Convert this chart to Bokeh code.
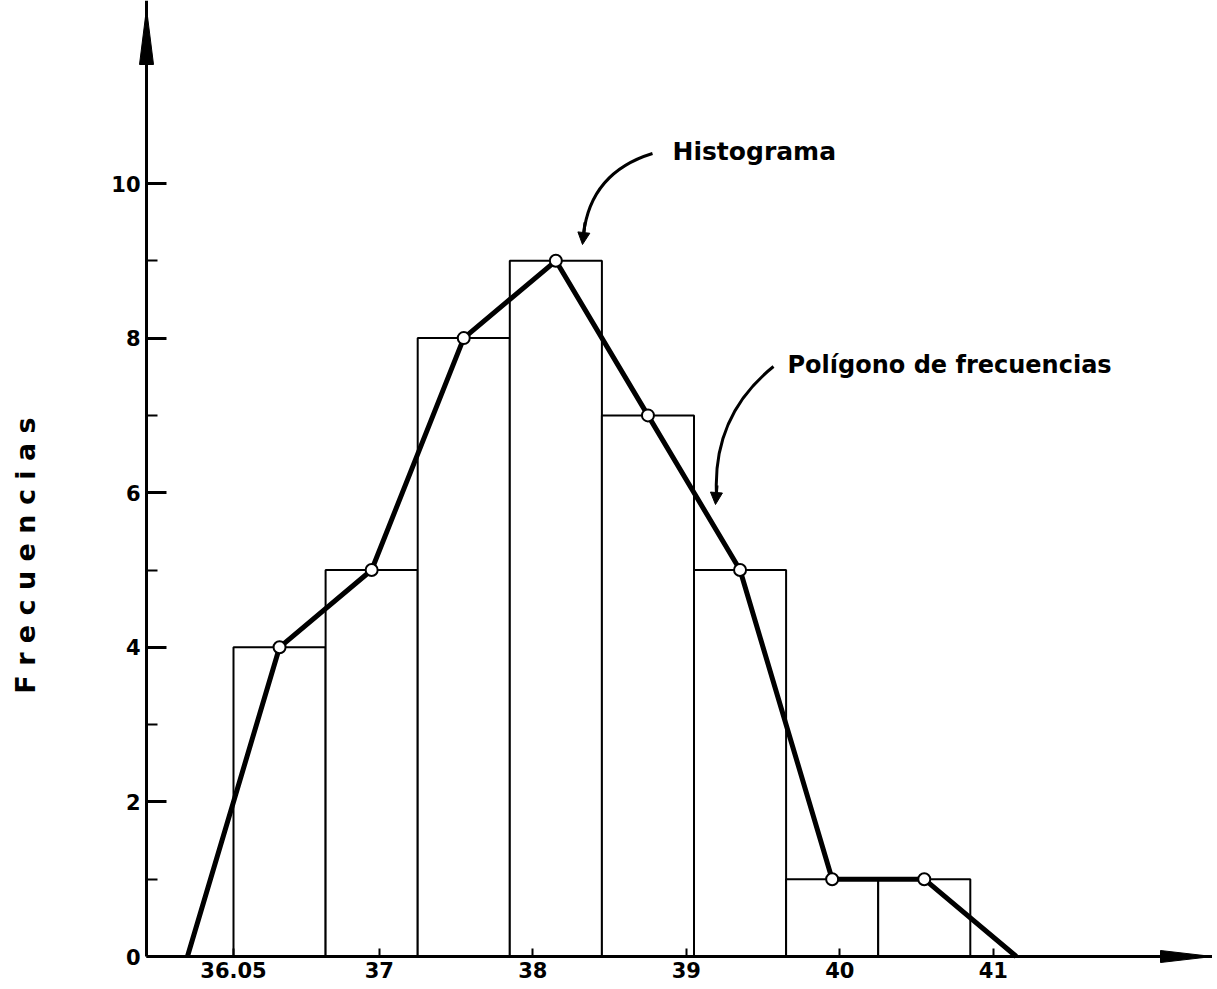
from bokeh.plotting import figure
from bokeh.models import FixedTicker, Label, Arrow, NormalHead, Range1d
from bokeh.embed import file_html
from bokeh.resources import INLINE
import math

# ---- data ----
CLASS_LOWER = [36.05, 36.65, 37.25, 37.85, 38.45, 39.05, 39.65, 40.25]
CLASS_UPPER = [36.65, 37.25, 37.85, 38.45, 39.05, 39.65, 40.25, 40.85]
FREQUENCIES = [4, 5, 8, 9, 7, 5, 1, 1]
POLY_X = [35.75, 36.35, 36.95, 37.55, 38.15, 38.75, 39.35, 39.95, 40.55, 41.15]
POLY_Y = [0, 4, 5, 8, 9, 7, 5, 1, 1, 0]
X_TICKS = [36.05, 37, 38, 39, 40, 41]
X_TICK_LABELS = ["36.05", "37", "38", "39", "40", "41"]
Y_TICKS = [0, 2, 4, 6, 8, 10]
Y_MINOR = [1, 3, 5, 7, 9]
Y_LABEL = "F r e c u e n c i a s"
HIST_LABEL = "Histograma"
POLY_LABEL = "Polígono de frecuencias"

# ---- layout (canvas pixels; the frame fills the whole canvas) ----
FONT = "DejaVu Sans"
W, H = 1212, 982
AX_X, AX_Y = 146, 956        # where the two axes cross
SX = 153.5                    # px per x unit
SY = 77.3                     # px per y unit
X_START = 36.05 - 233 / SX
X_END = X_START + W / SX
Y_START = -(H - AX_Y) / SY
Y_END = Y_START + H / SY


def dx(px):
    return X_START + px / SX


def dy(py):
    return (AX_Y - py) / SY


p = figure(width=W, height=H, output_backend="svg", toolbar_location=None,
           x_range=Range1d(X_START, X_END), y_range=Range1d(Y_START, Y_END),
           min_border_left=0, min_border_right=0, min_border_top=0,
           min_border_bottom=0)
p.outline_line_color = None
p.grid.visible = False
p.background_fill_color = "white"
p.border_fill_color = "white"

# histogram
p.quad(left=CLASS_LOWER, right=CLASS_UPPER, bottom=0, top=FREQUENCIES,
       fill_color="white", line_color="black", line_width=2)

# frequency polygon
p.line(POLY_X, POLY_Y, line_color="black", line_width=5)
p.scatter(POLY_X[1:-1], POLY_Y[1:-1], size=12, marker="circle",
          fill_color="white", line_color="black", line_width=2)

# axes (placed inside the frame, crossing at the origin)
for ax in (p.xaxis[0], p.yaxis[0]):
    ax.axis_line_width = 3
    ax.axis_line_color = "black"
    ax.major_tick_out = 0
    ax.minor_tick_out = 0
    ax.major_label_text_font = FONT
    ax.major_label_text_font_style = "bold"
    ax.major_label_text_font_size = "21px"
    ax.major_label_text_color = "black"
    ax.major_tick_line_color = "black"

p.xaxis.fixed_location = 0
p.xaxis.bounds = (dx(AX_X), X_END)
p.xaxis.ticker = FixedTicker(ticks=X_TICKS)
p.xaxis.major_label_overrides = {t: l for t, l in zip(X_TICKS, X_TICK_LABELS)}
p.xaxis.major_tick_in = 8
p.xaxis.major_tick_line_width = 2
p.xaxis.major_label_standoff = 5

p.yaxis.fixed_location = dx(AX_X)
p.yaxis.bounds = (0, Y_END)
p.yaxis.ticker = FixedTicker(ticks=Y_TICKS, minor_ticks=Y_MINOR)
p.yaxis.major_tick_in = 20
p.yaxis.minor_tick_in = 11
p.yaxis.major_tick_line_width = 3
p.yaxis.minor_tick_line_width = 2
p.yaxis.minor_tick_line_color = "black"
p.yaxis.major_label_standoff = 6

# axis arrowheads
p.patch([dx(AX_X - 7), dx(AX_X + 7), dx(AX_X)], [dy(64), dy(64), dy(8)],
        fill_color="black", line_color="black")
p.patch([dx(1160), dx(1160), dx(1212)], [dy(AX_Y - 6), dy(AX_Y + 6), dy(AX_Y)],
        fill_color="black", line_color="black")

# y-axis title
p.add_layout(Label(x=dx(25), y=dy(555), text=Y_LABEL, angle=math.pi / 2,
                   text_align="center", text_baseline="middle",
                   text_font=FONT, text_font_style="bold",
                   text_font_size="27px", text_color="black"))

# annotations
p.add_layout(Label(x=dx(672), y=dy(151), text=HIST_LABEL, text_align="left",
                   text_baseline="middle", text_font=FONT,
                   text_font_style="bold", text_font_size="25px",
                   text_color="black"))
p.add_layout(Label(x=dx(787), y=dy(364), text=POLY_LABEL, text_align="left",
                   text_baseline="middle", text_font=FONT,
                   text_font_style="bold", text_font_size="24px",
                   text_color="black"))

p.quadratic(x0=[dx(652), dx(773)], y0=[dy(153), dy(366)],
            x1=[dx(583), dx(716)], y1=[dy(234), dy(494)],
            cx=[dx(590), dx(712)], cy=[dy(172), dy(415)],
            line_color="black", line_width=3)
p.add_layout(Arrow(end=NormalHead(size=12, fill_color="black", line_color="black"),
                   x_start=dx(584.5), y_start=dy(222), x_end=dx(582), y_end=dy(244),
                   line_width=3, line_color="black"))
p.add_layout(Arrow(end=NormalHead(size=12, fill_color="black", line_color="black"),
                   x_start=dx(716.5), y_start=dy(485), x_end=dx(715), y_end=dy(504),
                   line_width=3, line_color="black"))

open("out.html", "w").write(file_html(p, INLINE))
